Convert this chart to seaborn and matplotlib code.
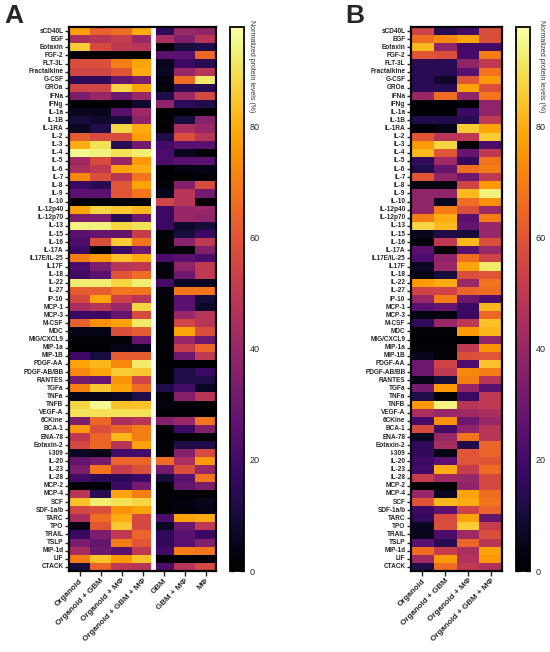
import numpy as np
import pandas as pd
import matplotlib
matplotlib.use("Agg")
import matplotlib.pyplot as plt
import seaborn as sns

sns.set_style("white")
plt.rcParams["font.family"] = ["Liberation Sans", "DejaVu Sans"]

# Cytokines (same rows in both panels)
proteins = ["sCD40L", "EGF", "Eotaxin", "FGF-2", "FLT-3L", "Fractalkine", "G-CSF", "GROa",
            "IFNa", "IFNg", "IL-1a", "IL-1B", "IL-1RA", "IL-2", "IL-3", "IL-4", "IL-5", "IL-6",
            "IL-7", "IL-8", "IL-9", "IL-10", "IL-12p40", "IL-12p70", "IL-13", "IL-15", "IL-16",
            "IL-17A", "IL17E/IL-25", "IL17F", "IL-18", "IL-22", "IL-27", "IP-10", "MCP-1",
            "MCP-3", "M-CSF", "MDC", "MIG/CXCL9", "MIP-1a", "MIP-1B", "PDGF-AA", "PDGF-AB/BB",
            "RANTES", "TGFa", "TNFa", "TNFB", "VEGF-A", "6CKine", "BCA-1", "ENA-78",
            "Eotaxin-2", "I-309", "IL-20", "IL-23", "IL-28", "MCP-2", "MCP-4", "SCF",
            "SDF-1a/b", "TARC", "TPO", "TRAIL", "TSLP", "MIP-1d", "LIF", "CTACK"]

cols_a = ["Organoid", "Organoid + GBM", "Organoid + MΦ", "Organoid + GBM + MΦ",
          "GBM", "GBM + MΦ", "MΦ"]
cols_b = ["Organoid", "Organoid + GBM", "Organoid + MΦ", "Organoid + GBM + MΦ"]

# Panel A values (normalized %)
a_org = [77, 45, 86, 0, 58, 55, 15, 55, 33, 0, 5, 10, 6, 62, 80, 96, 42, 45, 72, 18, 25,
         0, 78, 33, 94, 25, 22, 18, 70, 22, 20, 93, 62, 56, 45, 18, 63, 4, 1, 0, 18, 78, 72,
         32, 71, 4, 88, 90, 33, 76, 50, 56, 6, 28, 33, 20, 0, 48, 84, 56, 45, 4, 18, 33, 44,
         70, 10]
a_org_gbm = [63, 48, 57, 0, 58, 55, 15, 55, 40, 0, 5, 8, 12, 57, 90, 94, 57, 50, 58, 14,
             25, 0, 88, 33, 94, 28, 58, 0, 76, 33, 25, 93, 62, 78, 48, 18, 74, 4, 1, 0, 10,
             82, 78, 28, 85, 4, 96, 90, 65, 58, 64, 65, 4, 32, 68, 15, 0, 14, 93, 58, 66,
             60, 33, 28, 30, 84, 64]
a_org_mac = [66, 52, 50, 0, 70, 60, 28, 88, 30, 1, 25, 10, 88, 57, 14, 90, 40, 78, 48, 60,
             60, 0, 85, 14, 88, 28, 86, 18, 84, 48, 60, 88, 68, 54, 40, 28, 78, 58, 1, 4,
             62, 72, 86, 75, 78, 6, 84, 90, 45, 64, 82, 48, 20, 64, 52, 15, 18, 78, 90, 74,
             80, 85, 50, 70, 25, 76, 50]
a_org_gbm_mac = [80, 40, 48, 0, 78, 80, 33, 78, 40, 8, 42, 38, 80, 77, 32, 93, 76, 80, 68,
                 78, 68, 0, 82, 30, 90, 52, 68, 30, 80, 50, 66, 93, 68, 48, 88, 57, 92, 62,
                 28, 5, 62, 92, 85, 55, 66, 12, 84, 90, 48, 70, 70, 78, 20, 64, 58, 18, 32,
                 70, 88, 78, 56, 56, 64, 60, 50, 84, 48]
a_gbm = [15, 45, 0, 25, 5, 6, 3, 2, 12, 38, 0, 0, 0, 12, 20, 22, 22, 0, 0, 1, 5, 55, 18,
         18, 18, 1, 0, 1, 22, 3, 1, 20, 2, 1, 1, 1, 1, 1, 1, 1, 0, 0, 1, 1, 12, 1, 3, 0, 35,
         1, 0, 1, 1, 66, 32, 10, 1, 1, 1, 1, 22, 6, 16, 16, 20, 0, 22]
a_gbm_mac = [40, 35, 10, 25, 18, 40, 66, 14, 42, 15, 0, 10, 45, 58, 25, 5, 25, 3, 0, 35,
             48, 48, 40, 40, 8, 10, 36, 1, 25, 38, 30, 6, 68, 25, 25, 40, 55, 78, 40, 52,
             30, 0, 12, 12, 20, 35, 1, 0, 40, 18, 1, 12, 35, 45, 58, 25, 28, 0, 3, 2, 78,
             30, 25, 25, 70, 0, 48]
a_mac = [38, 48, 12, 65, 14, 48, 92, 14, 56, 12, 0, 36, 40, 48, 25, 1, 25, 4, 2, 57, 32,
         0, 40, 38, 10, 18, 50, 35, 22, 50, 50, 6, 68, 10, 7, 48, 48, 58, 30, 64, 50, 0,
         18, 12, 6, 48, 1, 0, 68, 35, 1, 12, 57, 76, 40, 68, 33, 0, 5, 4, 80, 50, 18, 35,
         68, 0, 56]

# Panel B values
b_org = [54, 66, 82, 60, 14, 14, 14, 14, 40, 0, 0, 12, 1, 60, 76, 82, 16, 12, 60, 3, 38,
         38, 38, 70, 88, 5, 2, 25, 22, 6, 4, 76, 54, 40, 25, 3, 16, 1, 0, 1, 5, 30, 30, 4,
         32, 12, 76, 45, 20, 57, 6, 16, 16, 18, 20, 52, 0, 40, 60, 18, 16, 6, 5, 25, 66,
         42, 12]
b_org_gbm = [14, 72, 38, 58, 14, 14, 8, 14, 66, 0, 0, 12, 4, 48, 88, 60, 42, 28, 38, 3,
             38, 6, 70, 80, 82, 12, 50, 1, 38, 40, 10, 80, 54, 70, 28, 3, 40, 1, 0, 1, 1,
             54, 50, 10, 76, 1, 94, 40, 74, 20, 40, 44, 4, 25, 80, 42, 0, 6, 82, 25, 57,
             58, 22, 14, 52, 76, 66]
b_org_mac = [20, 78, 20, 20, 38, 25, 60, 78, 38, 0, 18, 14, 86, 50, 0, 28, 16, 66, 30, 54,
             82, 66, 58, 25, 28, 10, 82, 25, 66, 78, 58, 40, 64, 30, 18, 18, 50, 76, 0, 50,
             58, 22, 72, 70, 40, 18, 48, 42, 30, 38, 68, 12, 60, 60, 52, 40, 38, 78, 80, 54,
             78, 86, 42, 64, 45, 46, 50]
b_org_gbm_mac = [58, 58, 20, 70, 50, 68, 76, 58, 68, 38, 38, 50, 78, 86, 22, 50, 68, 70,
                 50, 76, 94, 74, 40, 70, 40, 40, 58, 40, 54, 92, 60, 68, 66, 22, 82, 65,
                 84, 82, 38, 75, 60, 84, 70, 48, 25, 50, 50, 45, 40, 48, 48, 64, 64, 60,
                 66, 56, 56, 66, 68, 64, 28, 52, 58, 48, 78, 76, 46]

df_a = pd.DataFrame(dict(zip(cols_a, [a_org, a_org_gbm, a_org_mac, a_org_gbm_mac,
                                       a_gbm, a_gbm_mac, a_mac])), index=proteins)
df_b = pd.DataFrame(dict(zip(cols_b, [b_org, b_org_gbm, b_org_mac, b_org_gbm_mac])),
                    index=proteins)

fig = plt.figure(figsize=(5.5, 6.52), dpi=100)
bottom, height = 0.1242, 0.8344
ax_a = fig.add_axes([0.1255, bottom, 0.2673, height])
cax_a = fig.add_axes([0.418, bottom, 0.0255, height])
ax_b = fig.add_axes([0.7473, bottom, 0.1655, height])
cax_b = fig.add_axes([0.938, bottom, 0.0255, height])


def draw(df, ax, cax):
    sns.heatmap(df, ax=ax, cbar_ax=cax, cmap="inferno", vmin=0, vmax=98,
                xticklabels=list(df.columns), yticklabels=list(df.index))
    for s in ax.spines.values():
        s.set_visible(True)
        s.set_color("black")
        s.set_linewidth(1.6)
    ax.tick_params(axis="y", length=3, width=1.0, pad=1, left=True)
    ax.tick_params(axis="x", length=3.5, width=1.0, pad=1, bottom=True)
    ax.set_yticklabels(ax.get_yticklabels(), rotation=0, fontsize=4.7, fontweight="bold")
    ax.set_xticklabels(ax.get_xticklabels(), rotation=45, ha="right",
                       rotation_mode="anchor", fontsize=5.8, fontweight="bold")
    ax.set_xlabel("")
    ax.set_ylabel("")

    cbar = ax.collections[0].colorbar
    cbar.set_ticks([0, 20, 40, 60, 80])
    cbar.outline.set_linewidth(1.3)
    cbar.outline.set_edgecolor("black")
    cax.tick_params(labelsize=6.5, length=3, width=1.0, direction="in",
                    left=True, right=True, pad=4)


draw(df_a, ax_a, cax_a)
draw(df_b, ax_b, cax_b)

# white gap between organoid and monoculture groups
ax_a.axvline(4, color="white", lw=3.5, zorder=2)

for x in [252 / 550, 541 / 550]:
    fig.text(x, 1 - 20 / 652, "Normalized protein levels (%)", rotation=270,
             ha="center", va="top", fontsize=5, color="#333333")

fig.text(4 / 550, 1 - 4 / 652, "A", fontsize=19, fontweight="bold", va="top", ha="left")
fig.text(345 / 550, 1 - 4 / 652, "B", fontsize=19, fontweight="bold", va="top", ha="left")

fig.savefig("out.png", dpi=100)
